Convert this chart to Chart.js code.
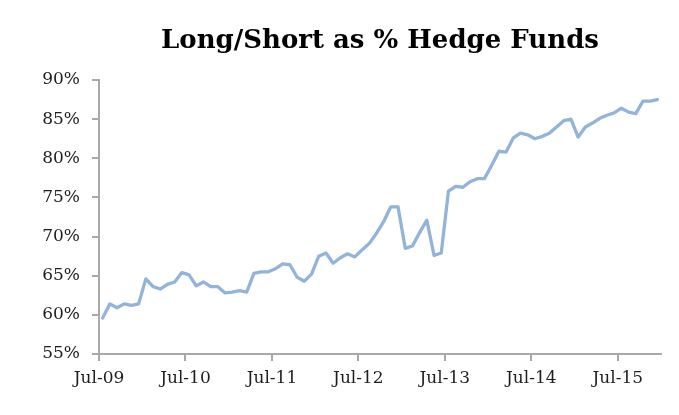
<!DOCTYPE html>
<html><head><meta charset="utf-8">
<script src="https://cdn.jsdelivr.net/npm/chart.js@4"></script>
<style>html,body{margin:0;padding:0;background:#fff}#wrap{width:679px;height:415px;position:relative}</style>
</head><body><div id="wrap"><canvas id="c"></canvas></div>
<script>
const titleText = 'Long/Short as % Hedge Funds';
// Monthly share (%), Jul-09 .. Dec-15
const values = [
  59.6, 61.4, 60.9, 61.4, 61.2, 61.4, 64.6, 63.6, 63.3, 63.9, 64.2, 65.4,
  65.1, 63.7, 64.2, 63.6, 63.6, 62.8, 62.9, 63.1, 62.9, 65.3, 65.5, 65.5,
  65.9, 66.5, 66.4, 64.8, 64.3, 65.2, 67.5, 67.9, 66.6, 67.3, 67.8, 67.4,
  68.3, 69.1, 70.4, 71.9, 73.8, 73.8, 68.5, 68.8, 70.5, 72.1, 67.6, 67.9,
  75.8, 76.4, 76.3, 77.0, 77.4, 77.4, 79.1, 80.9, 80.8, 82.6, 83.2, 83.0,
  82.5, 82.8, 83.2, 84.0, 84.8, 85.0, 82.7, 84.0, 84.5, 85.1, 85.5, 85.8,
  86.4, 85.9, 85.7, 87.3, 87.3, 87.5
];
const tickMonths = [0, 12, 24, 36, 48, 60, 72];
const tickLabels = ['Jul-09', 'Jul-10', 'Jul-11', 'Jul-12', 'Jul-13', 'Jul-14', 'Jul-15'];
const yMin = 55, yMax = 90, yStep = 5;
const axisMonths = 78;     // Jul-09 .. Jan-16
const midMonth = 0.5;      // monthly values plotted mid-month

const points = values.map((v, i) => ({ x: i + midMonth, y: v }));
const axisColor = '#a9a9a9';
const textColor = '#1e1e1e';
const serif = "'DejaVu Serif', 'Liberation Serif', serif";

new Chart(document.getElementById('c'), {
  type: 'line',
  data: { datasets: [{
    data: points,
    borderColor: '#93b3da',
    borderWidth: 3.3,
    pointRadius: 0,
    tension: 0,
    borderJoinStyle: 'round',
    borderCapStyle: 'round'
  }]},
  options: {
    responsive: true,
    maintainAspectRatio: false,
    animation: false,
    layout: { padding: { left: 0, right: 18, top: 0, bottom: 0 } },
    plugins: {
      legend: { display: false },
      tooltip: { enabled: false },
      title: {
        display: true,
        text: titleText,
        fullSize: false,
        color: '#000',
        font: { family: serif, size: 26, weight: 'bold', lineHeight: 1.2 },
        padding: { top: 26, bottom: 22.8 }
      }
    },
    scales: {
      x: {
        type: 'linear',
        min: 0, max: axisMonths,
        afterBuildTicks: s => { s.ticks = tickMonths.map(v => ({ value: v })); },
        afterFit: s => { s.height = 61; },
        grid: { drawOnChartArea: false, drawTicks: true, tickLength: 7, color: axisColor, lineWidth: 2 },
        border: { color: axisColor, width: 2 },
        ticks: {
          autoSkip: false, maxRotation: 0, padding: 7, color: textColor,
          font: { family: serif, size: 17 },
          callback: v => tickLabels[tickMonths.indexOf(v)]
        }
      },
      y: {
        min: yMin, max: yMax,
        afterFit: s => { s.width = 99; },
        grid: { drawOnChartArea: false, drawTicks: true, tickLength: 7, color: axisColor, lineWidth: 2 },
        border: { color: axisColor, width: 2 },
        ticks: {
          stepSize: yStep, padding: 12, color: textColor,
          font: { family: serif, size: 17 },
          callback: v => v + '%'
        }
      }
    }
  }
});
</script></body></html>
